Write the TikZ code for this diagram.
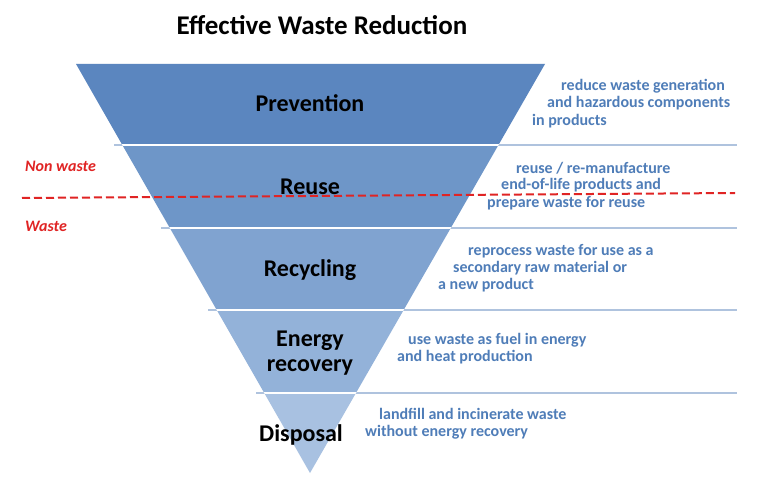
\documentclass[tikz,border=0pt]{standalone}
\usepackage{fontspec}
\setmainfont{Carlito}
\definecolor{bandA}{HTML}{5B86BF}
\definecolor{bandB}{HTML}{6E96C8}
\definecolor{bandC}{HTML}{80A3D0}
\definecolor{bandD}{HTML}{93B2D9}
\definecolor{bandE}{HTML}{A8C1E1}
\definecolor{descblue}{HTML}{4F7DB8}
\definecolor{sepline}{HTML}{AFC3DE}
\definecolor{wred}{HTML}{E02424}
\begin{document}
\begin{tikzpicture}[x=1pt,y=-1pt,
  lbl/.style={font=\fontsize{24}{26}\selectfont\bfseries, text=black, inner sep=0pt},
  desc/.style={font=\fontsize{16}{18}\selectfont\bfseries, text=descblue, anchor=west, inner sep=0pt},
  side/.style={font=\fontsize{16}{18}\selectfont\bfseries\itshape, text=wred, anchor=west, inner sep=0pt},
  sep/.style={draw=sepline, line width=1.4pt},
  sepin/.style={draw=white, line width=1.6pt}]
\useasboundingbox[fill=white] (0,0) rectangle (768,478);

% triangle corners
\coordinate (tl) at (76,64);
\coordinate (tr) at (545,64);
\coordinate (ap) at (310,473);

% bands
\begin{scope}
  \clip (tl) -- (tr) -- (ap) -- cycle;
  \fill[bandA] (0,60) rectangle (768,145);
  \fill[bandB] (0,145) rectangle (768,228);
  \fill[bandC] (0,228) rectangle (768,310);
  \fill[bandD] (0,310) rectangle (768,393);
  \fill[bandE] (0,393) rectangle (768,478);
\end{scope}

% separator lines
\foreach \yy/\xs in {145/114, 228/161, 310/208, 393/256}{
  \draw[sep] (\xs,\yy) -- (737,\yy);
}
\begin{scope}
  \clip (tl) -- (tr) -- (ap) -- cycle;
  \foreach \yy in {145,228,310,393}{
    \draw[sepin] (0,\yy) -- (768,\yy);
  }
\end{scope}

% red dashed boundary
\coordinate (dashL) at (22,198);
\coordinate (dashR) at (735,193);
\draw[wred, line width=2pt, dash pattern=on 8pt off 4pt] (dashL) -- (dashR);

% title
\node[font=\fontsize{27}{30}\selectfont\bfseries, inner sep=0pt] (title) at (322,25) {Effective Waste Reduction};

% band labels
\node[lbl] (prev) at (310,103) {Prevention};
\node[lbl] (reuse) at (310,187) {Reuse};
\node[lbl] (recy) at (310,270) {Recycling};
\node[lbl] (ener1) at (310,341) {Energy};
\node[lbl] (ener2) at (310,367) {recovery};
\node[lbl] (disp) at (301,435) {Disposal};

% side labels
\node[side] (nonwaste) at (25,166) {Non waste};
\node[side] (waste) at (25,226) {Waste};

% descriptions
\node[desc] (d1a) at (561,86) {reduce waste generation};
\node[desc] (d1b) at (547,103) {and hazardous components};
\node[desc] (d1c) at (532,121) {in products};

\node[desc] (d2a) at (516,168) {reuse / re-manufacture};
\node[desc] (d2b) at (501,185) {end-of-life products and};
\node[desc] (d2c) at (487,203) {prepare waste for reuse};

\node[desc] (d3a) at (468,251) {reprocess waste for use as a};
\node[desc] (d3b) at (453,268) {secondary raw material or};
\node[desc] (d3c) at (438,285) {a new product};

\node[desc] (d4a) at (408,340) {use waste as fuel in energy};
\node[desc] (d4b) at (397,357) {and heat production};

\node[desc] (d5a) at (379,414) {landfill and incinerate waste};
\node[desc] (d5b) at (365,432) {without energy recovery};
\end{tikzpicture}
\end{document}
